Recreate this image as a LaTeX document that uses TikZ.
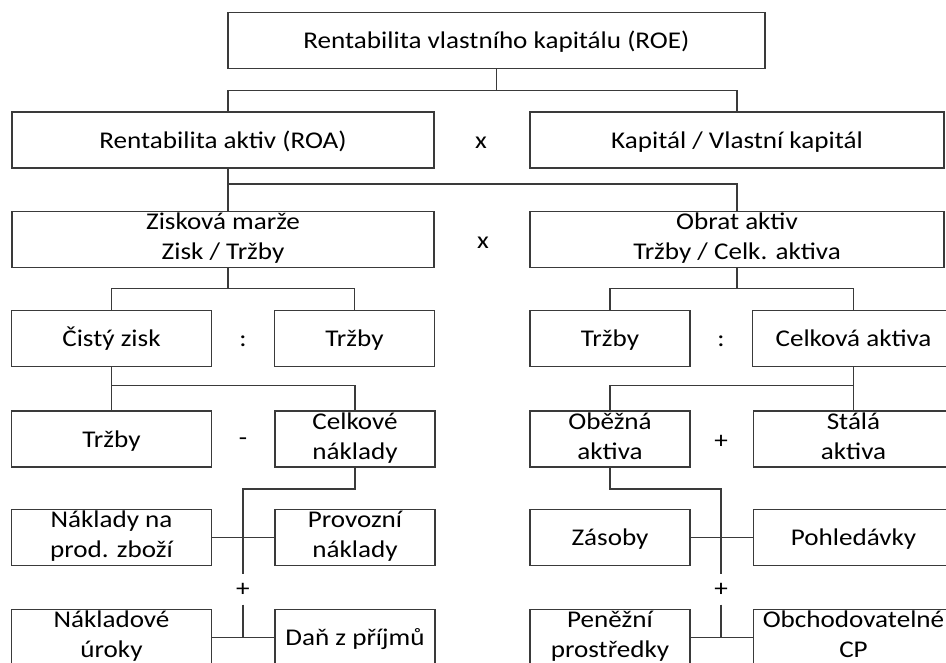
\documentclass[tikz,border=0pt]{standalone}
\usepackage{fontspec}
\setmainfont{Carlito}[FakeStretch=1.13]
\usepackage{tikz}
\usetikzlibrary{positioning}
\definecolor{boxgray}{HTML}{3A3A3A}
\newcommand{\boxfont}{\fontsize{24}{30}\selectfont}
\newcommand{\boxstrut}{\rule[-6pt]{0pt}{28pt}}
\tikzset{
    box/.style = {rectangle, draw=boxgray, line width=1.8pt, fill=white, inner sep=0pt, minimum height=56pt, align=center, font=\boxfont,
        execute at begin node=\boxstrut, execute at end node=\boxstrut},
    op/.style = {inner sep=0pt, minimum height=30pt, yshift=-3pt, font=\boxfont},
    link/.style = {draw=boxgray, line width=1.8pt}}
\begin{document}
\begin{tikzpicture}[x=1pt,y=-1pt]
        \path[use as bounding box, clip] (0,0) rectangle (946,662);
        % level 1
        \path (496.5,40.5) node[box, minimum width=537pt] (roe) {Rentabilita vlastního kapitálu (ROE)};
        % level 2
        \path (223,140) node[box, minimum width=422pt] (roa) {Rentabilita aktiv (ROA)}
        + (258,0) node[op] (x1) {x}
        + (514,0) node[box, minimum width=414pt] (kap) {Kapitál / Vlastní kapitál};
        % level 3
        \path (223,239.5) node[box, minimum width=422pt] (marze) {Zisková marže\\Zisk / Tržby}
        + (260,0) node[op] (x2) {x}
        + (514,0) node[box, minimum width=414pt] (obrat) {Obrat aktiv\\Tržby / Celk. aktiva};
        % level 4
        \path (111.5,338.5) node[box, minimum width=200pt] (cisty) {Čistý zisk}
        + (131.5,0) node[op] (d1) {:}
        + (243,0) node[box, minimum width=160pt] (trzbyA) {Tržby}
        ++ (498.5,0) node[box, minimum width=160pt] (trzbyB) {Tržby}
        + (111,0) node[op] (d2) {:}
        + (243.5,0) node[box, minimum width=202pt] (celkA) {Celková aktiva};
        % level 5
        \path (111.5,439) node[box, minimum width=200pt] (trzbyC) {Tržby}
        + (131.5,0) node[op] (minus) {-}
        + (243.5,0) node[box, minimum width=160pt] (celkN) {Celkové\\náklady}
        ++ (498.5,0) node[box, minimum width=160pt] (obezna) {Oběžná\\aktiva}
        + (111,0) node[op] (p1) {+}
        + (243.5,0) node[box, minimum width=200pt] (stala) {Stálá\\aktiva};
        % level 6
        \path (111.5,537.5) node[box, minimum width=200pt] (naklZb) {Náklady na\\prod. zboží}
        + (131.5,49) node[op] (p2) {+}
        + (243.5,0) node[box, minimum width=160pt] (provoz) {Provozní\\náklady}
        ++ (498.5,0) node[box, minimum width=160pt] (zasoby) {Zásoby}
        + (111,49) node[op] (p3) {+}
        + (243.5,0) node[box, minimum width=200pt] (pohl) {Pohledávky};
        % level 7
        \path (111.5,637.5) node[box, minimum width=200pt] (uroky) {Nákladové\\úroky}
        + (243.5,0) node[box, minimum width=160pt] (dan) {Daň z příjmů}
        ++ (498.5,0) node[box, minimum width=160pt] (penez) {Peněžní\\prostředky}
        + (243.5,0) node[box, minimum width=200pt] (obchCP) {Obchodovatelné\\CP};
        % connectors
        \draw[link] (roe.south) -- ++(0,21) coordinate (j1);
        \draw[link] (roa.north) ++(5,0) |- (j1) -| (kap.north);
        \draw[link] (roa.south) ++(5,0) -- ++(0,15) coordinate (j2) -- (marze.north -| j2);
        \draw[link] (j2) -| (obrat.north);
        \draw[link] (marze.south) ++(5,0) -- ++(0,20) coordinate (j3);
        \draw[link] (cisty.north) |- (j3) -| (trzbyA.north);
        \draw[link] (obrat.south) -- ++(0,20) coordinate (j4);
        \draw[link] (trzbyB.north) |- (j4) -| (celkA.north);
        \draw[link] (cisty.south) -- (trzbyC.north);
        \draw[link] (cisty.south) ++(0,18) -| (celkN.north);
        \draw[link] (celkA.south) -- (stala.north);
        \draw[link] (celkA.south) ++(0,18) -| (obezna.north);
        \draw[link] (celkN.south) -- ++(0,21) -| (p2.north);
        \draw[link] (p2.south) -- (p2.south |- uroky.east);
        \draw[link] (naklZb.east) -- (provoz.west);
        \draw[link] (uroky.east) -- (dan.west);
        \draw[link] (obezna.south) -- ++(0,21) -| (p3.north);
        \draw[link] (p3.south) -- (p3.south |- penez.east);
        \draw[link] (zasoby.east) -- (pohl.west);
        \draw[link] (penez.east) -- (obchCP.west);
\end{tikzpicture}
\end{document}
